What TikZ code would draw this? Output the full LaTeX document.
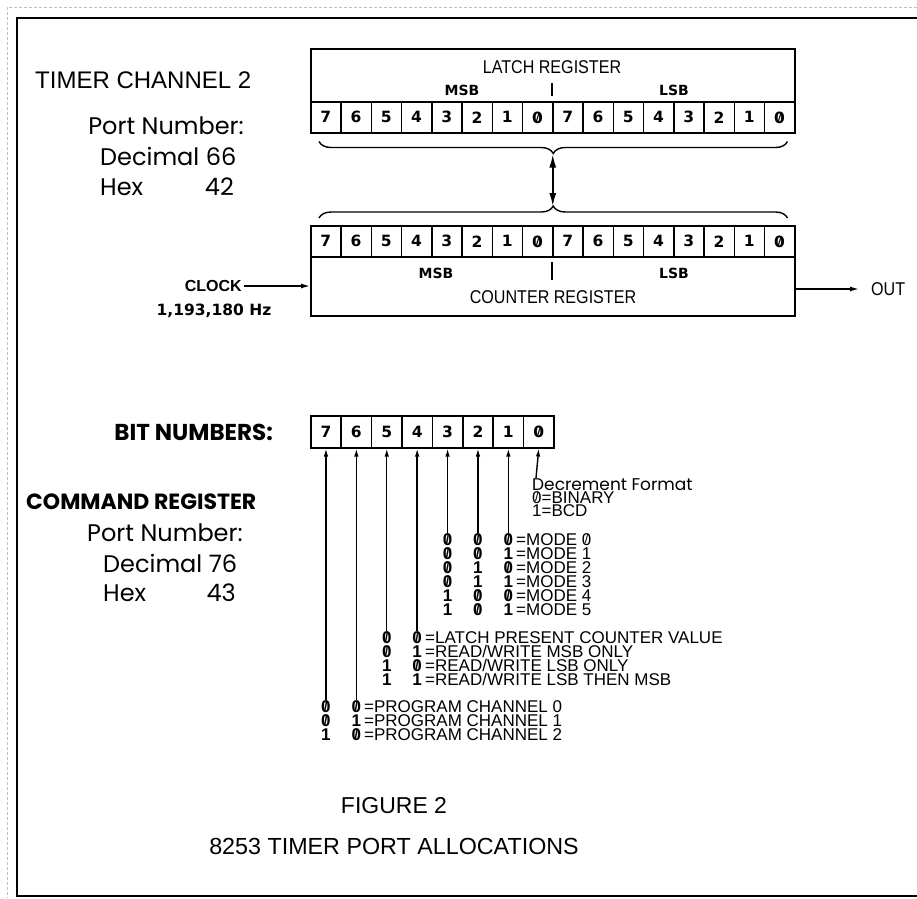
\documentclass[tikz,border=0pt]{standalone}
\usepackage{fontspec}
\setmainfont{Liberation Sans}
\newfontfamily\geofont{Poppins}
\newfontfamily\boldfont{DejaVu Sans}
\newfontfamily\narrowfont[FakeStretch=0.87]{Liberation Sans}
\usepackage{graphicx}
\usepackage{tikz}
\usetikzlibrary{shapes, arrows.meta, decorations.pathreplacing}
\lineskiplimit=-100pt

\newcommand{\zr}{\ooalign{0\cr\hidewidth\raisebox{0.08em}{\scalebox{0.75}{/}}\hidewidth\cr}}

\tikzstyle{regbox} = [rectangle, draw=black, line width=1.5pt, inner sep=0pt, anchor=north west]
\tikzstyle{bitbox} = [rectangle, draw=black, line width=1.5pt, inner sep=0pt, anchor=north west, minimum width=30.25pt, minimum height=31pt, font=\boldfont\bfseries\fontsize{15.5}{15.5}\selectfont]
\tikzstyle{txt} = [inner sep=0pt, font=\fontsize{16}{16}\selectfont]
\tikzstyle{narrowtxt} = [inner sep=0pt, font=\narrowfont\fontsize{18.5}{18.5}\selectfont]
\tikzstyle{bigtxt} = [inner sep=0pt, font=\fontsize{24}{24}\selectfont]
\tikzstyle{geo} = [inner sep=0pt, font=\geofont\fontsize{24}{24}\selectfont]
\tikzstyle{heavy} = [inner sep=0pt, font=\boldfont\bfseries\fontsize{14}{14}\selectfont]
\tikzstyle{bitcol} = [anchor=north, inner sep=0pt, align=center, font=\bfseries\fontsize{17}{14}\selectfont]
\tikzstyle{rows} = [anchor=north west, inner sep=0pt, align=left, font=\fontsize{17}{14}\selectfont]
\tikzstyle{arrow} = [line width=1.4pt, -{Latex[length=9pt,width=5pt]}]
\tikzstyle{bitarrow} = [line width=1.4pt, -{Latex[length=8pt,width=4.5pt]}]
\tikzstyle{dblarrow} = [line width=1.6pt, {Latex[length=13pt,width=7pt]}-{Latex[length=13pt,width=7pt]}]
\tikzstyle{brc} = [line width=1.4pt, decorate, decoration={brace, amplitude=12pt}]

\begin{document}
\begin{tikzpicture}[x=1pt, y=-1pt]
\useasboundingbox (0,0) rectangle (917,898);

%Frame==============================================
\draw[gray!50, densely dashed, line width=0.4pt] (917,7) -- (7,7) -- (7,898);
\draw[line width=1.6pt] (917,18) -- (17,18) -- (17,896) -- (917,896);

%Timer channel 2====================================
\node (tchan) [bigtxt, anchor=west] at (35,80) {TIMER CHANNEL 2};
\node (tport) [geo, anchor=east] at (244,126) {Port Number:};
\node (tdec) [geo, anchor=west] at (100,156) {Decimal 66};
\node (thex) [geo, anchor=west] at (100,187) {Hex};
\node (thexv) [geo, anchor=east] at (234,187) {42};

%Latch register=====================================
\node (latch) [regbox, minimum width=484pt, minimum height=84pt] at (310,48) {};
\foreach \t [count=\i from 0] in {7,6,5,4,3,2,1,\zr,7,6,5,4,3,2,1,\zr}
  \node (lb\i) [bitbox] at ({310+30.25*\i},101) {\t};
\node (lname) [narrowtxt] at (552,67) {LATCH REGISTER};
\node (lmsb) [heavy] at (462,90) {MSB};
\node (llsb) [heavy] at (674,90) {LSB};
\draw[line width=1.4pt] (552,83) -- (552,96);

%Counter register===================================
\node (counter) [regbox, minimum width=484pt, minimum height=90pt] at (310,225) {};
\foreach \t [count=\i from 0] in {7,6,5,4,3,2,1,\zr,7,6,5,4,3,2,1,\zr}
  \node (cb\i) [bitbox] at ({310+30.25*\i},225) {\t};
\node (cmsb) [heavy] at (436,273) {MSB};
\node (clsb) [heavy] at (674,273) {LSB};
\node (cname) [narrowtxt] at (553,297) {COUNTER REGISTER};
\draw[line width=1.4pt] (552,262) -- (552,280);

%Braces and transfer================================
\draw[brc] ([xshift=-8pt,yshift=-8pt]latch.south east) -- ([xshift=9pt,yshift=-8pt]latch.south west);
\draw[brc] ([xshift=9pt,yshift=7pt]counter.north west) -- ([xshift=-8pt,yshift=7pt]counter.north east);
\coordinate (ltip) at ([yshift=-21pt]latch.south);
\coordinate (ctip) at ([yshift=19pt]counter.north);
\draw[dblarrow] (ltip) -- (ctip);

%Clock and out======================================
\node (clock) [txt, font=\bfseries\fontsize{16}{16}\selectfont, anchor=east] at (242,286) {CLOCK};
\node (freq) [heavy, font=\boldfont\bfseries\fontsize{15.5}{15.5}\selectfont] at (214,311) {1,193,180 Hz};
\node (out) [narrowtxt, anchor=west] at (871,289) {OUT};
\draw[arrow] ([xshift=2pt]clock.east) -- (clock.east -| counter.west);
\draw[arrow] (out.west -| counter.east) -- ([xshift=-12pt]out.west);

%Command register===================================
\node (bitnum) [geo, font=\geofont\bfseries\fontsize{23}{23}\selectfont, anchor=east] at (273,432) {BIT NUMBERS:};
\node (cmd) [geo, font=\geofont\bfseries\fontsize{22}{22}\selectfont, anchor=west] at (26,502) {COMMAND REGISTER};
\node (cport) [geo, anchor=west] at (87,533) {Port Number:};
\node (cdec) [geo, anchor=west] at (103,563) {Decimal 76};
\node (chex) [geo, anchor=west] at (103,593) {Hex};
\node (chexv) [geo, anchor=east] at (236,593) {43};

\foreach \b/\t in {7/7,6/6,5/5,4/4,3/3,2/2,1/1,0/\zr}
  \node (b\b) [bitbox, minimum width=30.4pt, minimum height=32pt] at ({310+30.4*(7-\b)},415) {\t};

%Decrement format===================================
\node (dec) [rows, font=\fontsize{17}{13}\selectfont] at (532,478) {{\geofont Decrement Format}\\\zr=BINARY\\1=BCD};
\draw[bitarrow] ([xshift=4pt]dec.north west) -- (b0.south);

%Mode===============================================
\node (m3) [bitcol] at (b3 |- 0,533) {\zr\\\zr\\\zr\\\zr\\1\\1};
\node (m2) [bitcol] at (b2 |- 0,533) {\zr\\\zr\\1\\1\\\zr\\\zr};
\node (m1) [bitcol] at (b1 |- 0,533) {\zr\\1\\\zr\\1\\\zr\\1};
\node (modes) [rows] at (516,533) {=MODE \zr\\=MODE 1\\=MODE 2\\=MODE 3\\=MODE 4\\=MODE 5};
\draw[bitarrow] (m3.north) -- (b3.south);
\draw[bitarrow] (m2.north) -- (b2.south);
\draw[bitarrow] (m1.north) -- (b1.south);

%Read/write=========================================
\node (w5) [bitcol] at (b5 |- 0,631) {\zr\\\zr\\1\\1};
\node (w4) [bitcol] at (b4 |- 0,631) {\zr\\1\\\zr\\1};
\node (rw) [rows] at (425,631) {=LATCH PRESENT COUNTER VALUE\\=READ/WRITE MSB ONLY\\=READ/WRITE LSB ONLY\\=READ/WRITE LSB THEN MSB};
\draw[bitarrow] (w5.north) -- (b5.south);
\draw[bitarrow] (w4.north) -- (b4.south);

%Program channel====================================
\node (p7) [bitcol] at (b7 |- 0,700) {\zr\\\zr\\1};
\node (p6) [bitcol] at (b6 |- 0,700) {\zr\\1\\\zr};
\node (prog) [rows] at (364,700) {=PROGRAM CHANNEL 0\\=PROGRAM CHANNEL 1\\=PROGRAM CHANNEL 2};
\draw[bitarrow] (p7.north) -- (b7.south);
\draw[bitarrow] (p6.north) -- (b6.south);

%Caption============================================
\node (fig) [txt, font=\fontsize{23}{23}\selectfont] at (394,806) {FIGURE 2};
\node (figname) [txt, font=\fontsize{23.3}{23.3}\selectfont] at (394,846) {8253 TIMER PORT ALLOCATIONS};
\end{tikzpicture}
\end{document}
